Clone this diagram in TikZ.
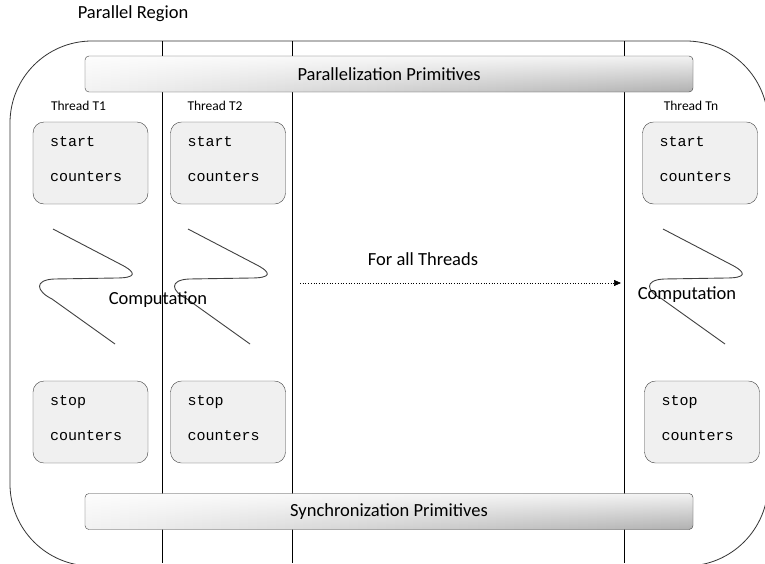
\documentclass[tikz,border=0pt]{standalone}
\usepackage{fontspec}
\setmainfont{Carlito}
\newfontfamily\codefont{Liberation Mono}
\usetikzlibrary{arrows.meta, positioning, fadings}
\tikzfading[name=topglow, top color=transparent!15, bottom color=transparent!100]

\begin{document}
\begin{tikzpicture}[x=1pt, y=-1pt,
    lane/.style={draw=black, line width=0.8pt},
    bar/.style={draw=black!75, rounded corners=4pt, minimum width=608pt,
                minimum height=36pt, inner sep=0pt,
                left color=gray!10, right color=gray!62,
                path picture={\fill[white, path fading=topglow]
                    (path picture bounding box.south west) rectangle
                    (path picture bounding box.north east);},
                font=\fontsize{18.5}{20}\selectfont},
    counterbox/.style={draw=black!75, rounded corners=11pt, fill=gray!12,
                minimum width=115pt, minimum height=82pt, inner sep=0pt,
                text width=81pt, align=left,
                execute at end node={\endgraf\vspace{8pt}},
                font=\codefont\fontsize{15}{35}\selectfont},
    tlabel/.style={font=\fontsize{13.5}{15}\selectfont, inner sep=1pt},
    biglabel/.style={font=\fontsize{18.5}{20}\selectfont, inner sep=1pt},
    arr/.style={-{Triangle[length=7pt, width=6pt]}, dotted, line width=0.7pt}
]
    \useasboundingbox (0,0) rectangle (765,563);
    \clip (0,0) rectangle (765,563);

    % Parallel region
    \node[biglabel] (region) at (133,14) {Parallel Region};
    \draw[black!80, line width=0.8pt, rounded corners=82pt]
        (10,41) rectangle (768,566);

    % Thread lanes
    \draw[lane] (162,41) -- (162,563);
    \draw[lane] (292,41) -- (292,563);
    \draw[lane] (624,41) -- (624,563);

    % Primitives
    \node[bar] (par) at (389,74) {Parallelization Primitives};
    \node[bar] (sync) at (389,511.5) {Synchronization Primitives};

    % Start counters
    \node[counterbox] (st1) at (90.5,163) {start\\counters};
    \node[counterbox] (st2) at (228,163) {start\\counters};
    \node[counterbox] (stn) at (700,163) {start\\counters};

    % Thread names
    \node[tlabel, above=10pt of st1, xshift=-12pt] (t1) {Thread T1};
    \node[tlabel, above=10pt of st2, xshift=-13pt] (t2) {Thread T2};
    \node[tlabel, above=10pt of stn, xshift=-9pt] (tn) {Thread Tn};

    % Computation
    \foreach \dx in {0,135,610}{
        \draw[black!75, line width=0.9pt, shift={(\dx,0)}]
            (53,229) -- (120,264) .. controls (138,273) and (136,278) .. (116,278)
            -- (54,279) .. controls (34,280) and (36,291) .. (52,299) -- (115,344);
    }
    \node[biglabel] (comp1) at (158,300) {Computation};
    \node[biglabel] (compn) at (687,295) {Computation};

    % Stop counters
    \node[counterbox] (sp1) at (90.5,422) {stop\\counters};
    \node[counterbox] (sp2) at (228,422) {stop\\counters};
    \node[counterbox] (spn) at (702,422) {stop\\counters};

    % For all threads
    \coordinate (from) at (300,283);
    \coordinate (to) at (621,283);
    \draw[arr] (from) -- (to);
    \node[biglabel] (all) at (423,259) {For all Threads};
\end{tikzpicture}
\end{document}
